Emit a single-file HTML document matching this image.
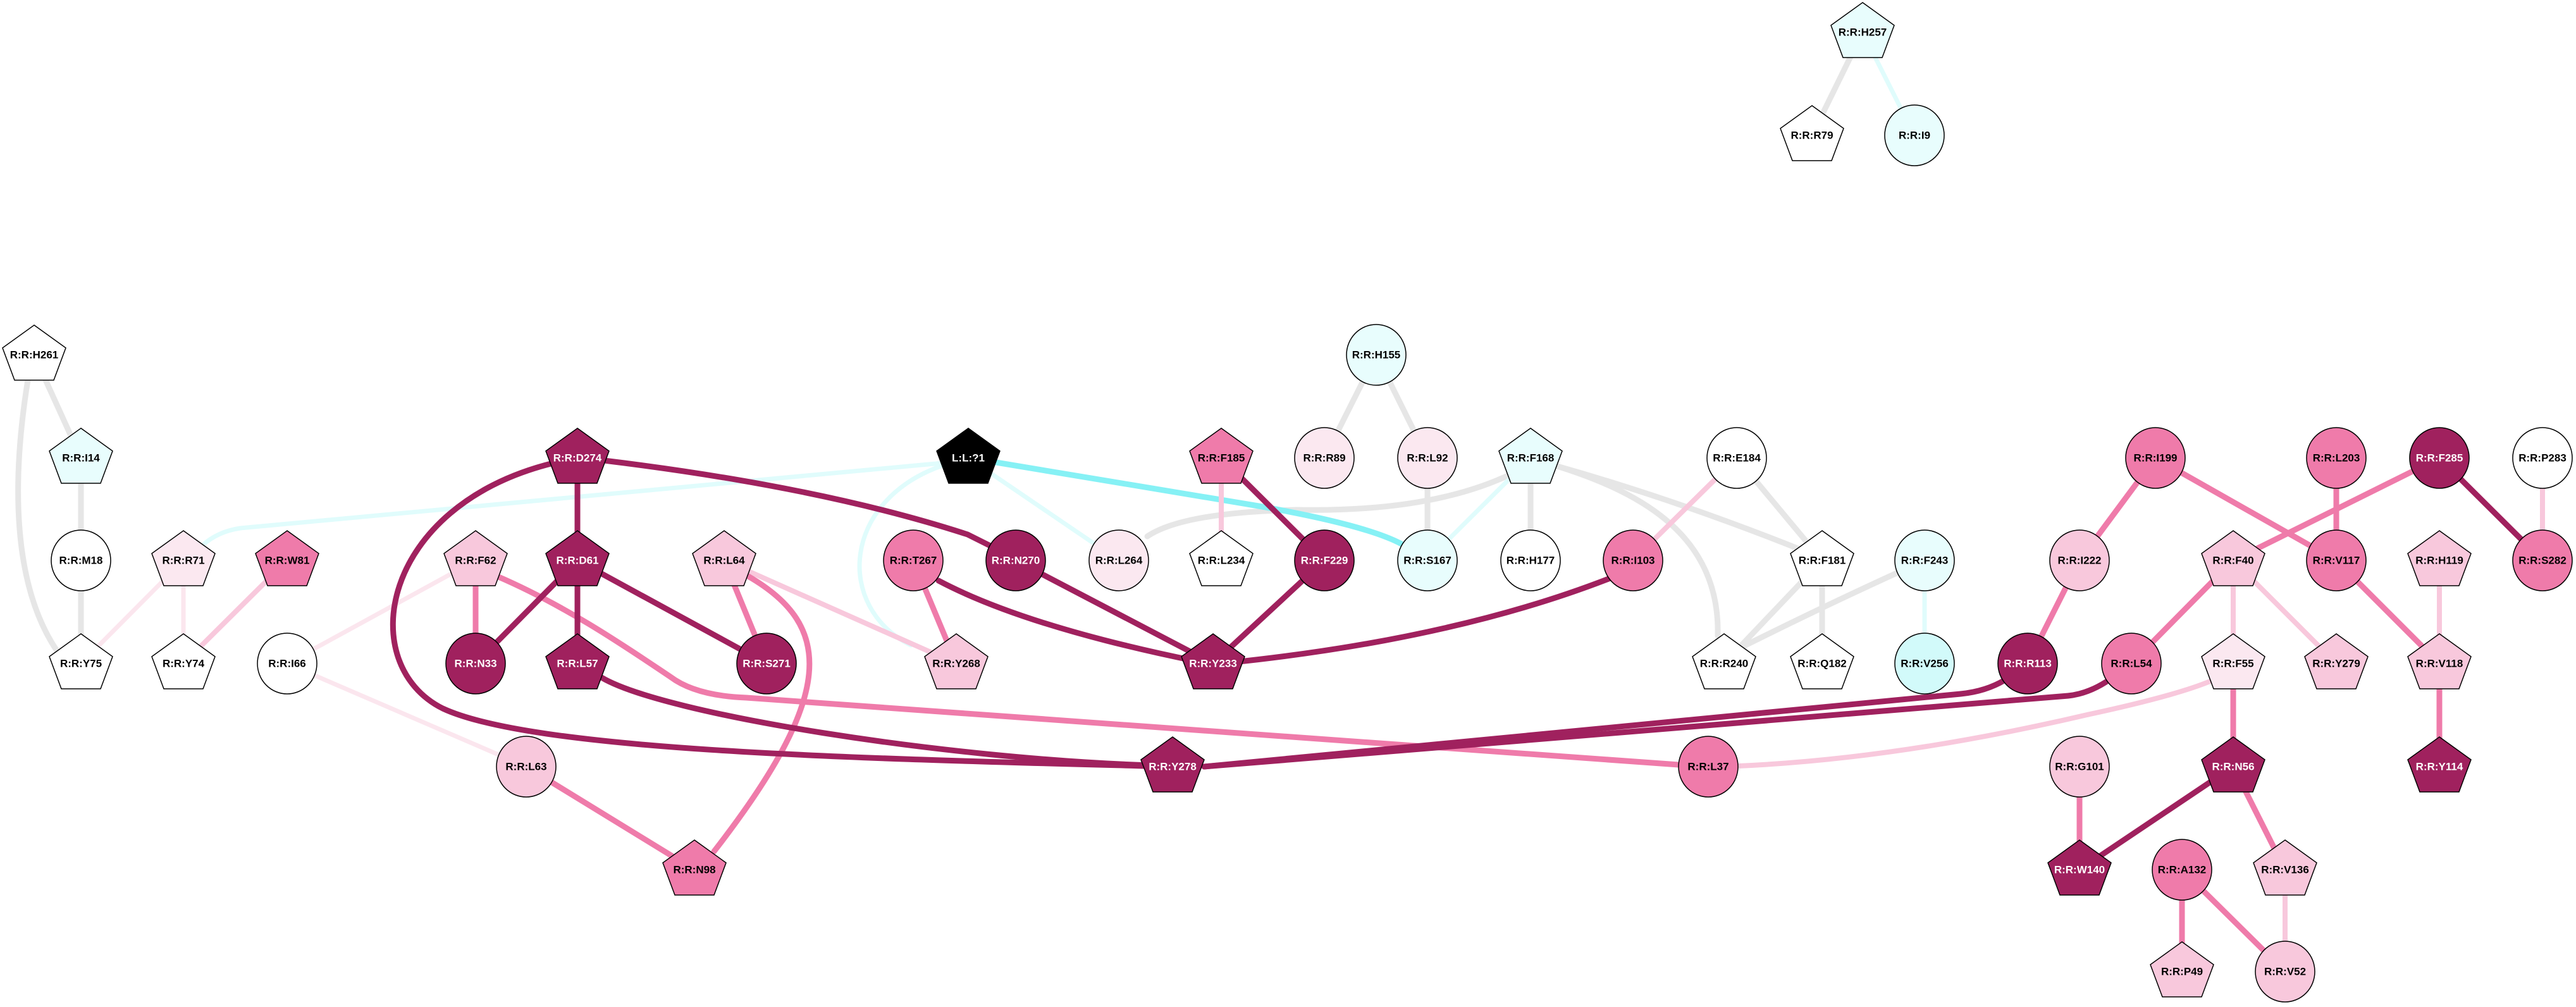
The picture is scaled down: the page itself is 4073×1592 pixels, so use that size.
<!DOCTYPE html>
<html><head><meta charset="utf-8"><style>
html,body{margin:0;padding:0;background:#fff;}
svg{display:block;}
text{font-family:"Liberation Sans",Arial,sans-serif;font-size:17px;font-weight:bold;text-anchor:middle;dominant-baseline:central;}
</style></head><body>
<svg width="4073" height="1592" viewBox="0 0 4073 1592" xmlns="http://www.w3.org/2000/svg">
<defs>
<symbol id="pent" overflow="visible"><polygon points="0,-47 50,-11 31,40 -31,40 -50,-11"/></symbol>
</defs>
<g fill="none" stroke-linecap="round">
<!-- gray -->
<g stroke="#e6e6e6" stroke-width="9">
<line x1="2945" y1="51" x2="2865" y2="214"/>
<line x1="54" y1="561" x2="128" y2="724"/>
<path d="M44 601 C20 750,15 930,98 1040"/>
<line x1="128" y1="724" x2="128" y2="886"/>
<line x1="128" y1="886" x2="128" y2="1049"/>
<line x1="2176" y1="561" x2="2094" y2="724"/>
<line x1="2176" y1="561" x2="2257" y2="724"/>
<line x1="2257" y1="724" x2="2257" y2="886"/>
<path d="M2386 751 Q2260 810 2050 806 Q1870 810 1814 848"/>
<line x1="2420" y1="724" x2="2420" y2="886"/>
<path d="M2462 737 C2600 780,2720 850,2716 1005"/>
<path d="M2462 737 Q2650 790 2850 870"/>
<line x1="2746" y1="724" x2="2881" y2="886"/>
<line x1="2881" y1="886" x2="2726" y2="1049"/>
<line x1="2881" y1="886" x2="2881" y2="1049"/>
<path d="M3043 886 Q2900 950 2740 1030"/>
</g>
<!-- light cyan -->
<g stroke="#e0fcfc" stroke-width="7">
<line x1="2945" y1="51" x2="3027" y2="214"/>
<path d="M1490 732 L380 835 Q345 840 320 862"/>
<line x1="1531" y1="724" x2="1769" y2="886"/>
<path d="M1493 735 C1330 790,1320 960,1440 1020"/>
<line x1="2420" y1="724" x2="2257" y2="886"/>
<line x1="3043" y1="886" x2="3043" y2="1049"/>
</g>
<path d="M1569 730 L1990 800 Q2160 830 2216 860" stroke="#86f1f5" stroke-width="9"/>
<!-- very light pink -->
<g stroke="#fbe6ee" stroke-width="7">
<line x1="290" y1="886" x2="128" y2="1049"/>
<line x1="290" y1="886" x2="290" y2="1049"/>
<line x1="752" y1="886" x2="454" y2="1049"/>
<line x1="454" y1="1049" x2="832" y2="1212"/>
</g>
<!-- light pink -->
<g stroke="#f8c8dc" stroke-width="8">
<line x1="454" y1="886" x2="290" y2="1049"/>
<line x1="1931" y1="724" x2="1931" y2="886"/>
<line x1="1145" y1="886" x2="1512" y2="1049"/>
<line x1="2746" y1="724" x2="2582" y2="886"/>
<path d="M3497 1076 Q3440 1100 3300 1130 Q3000 1200 2748 1211"/>
<line x1="3531" y1="886" x2="3694" y2="1049"/>
<line x1="3531" y1="886" x2="3531" y2="1049"/>
<line x1="3857" y1="886" x2="3857" y2="1049"/>
<line x1="3613" y1="1375" x2="3613" y2="1536"/>
<line x1="4020" y1="724" x2="4020" y2="886"/>
</g>
<!-- medium pink -->
<g stroke="#ef7baa" stroke-width="9">
<line x1="752" y1="886" x2="752" y2="1049"/>
<path d="M786 911 C900 960,1000 1030,1060 1070 Q1100 1100 1180 1103 L2654 1209"/>
<line x1="1145" y1="886" x2="1212" y2="1049"/>
<path d="M1183 911 C1320 990,1320 1100,1129 1346"/>
<line x1="832" y1="1212" x2="1098" y2="1375"/>
<line x1="1444" y1="886" x2="1512" y2="1049"/>
<line x1="3408" y1="724" x2="3288" y2="886"/>
<line x1="3408" y1="724" x2="3694" y2="886"/>
<line x1="3694" y1="724" x2="3694" y2="886"/>
<line x1="3857" y1="724" x2="3531" y2="886"/>
<line x1="3531" y1="886" x2="3370" y2="1049"/>
<line x1="3694" y1="886" x2="3857" y2="1049"/>
<line x1="3857" y1="1049" x2="3857" y2="1212"/>
<line x1="3531" y1="1049" x2="3531" y2="1212"/>
<line x1="3531" y1="1212" x2="3613" y2="1375"/>
<line x1="3288" y1="1212" x2="3288" y2="1375"/>
<line x1="3450" y1="1375" x2="3450" y2="1536"/>
<line x1="3450" y1="1375" x2="3613" y2="1536"/>
<line x1="3288" y1="886" x2="3206" y2="1049"/>
</g>
<!-- dark -->
<g stroke="#a0215e" stroke-width="9">
<line x1="913" y1="724" x2="913" y2="886"/>
<path d="M955 728 Q1300 770 1530 845 L1590 875"/>
<path d="M875 732 C600 800,560 1050,700 1120 C850 1190,1400 1200,1850 1212"/>
<line x1="913" y1="886" x2="752" y2="1049"/>
<line x1="913" y1="886" x2="913" y2="1049"/>
<line x1="913" y1="886" x2="1212" y2="1049"/>
<path d="M951 1071 C1050 1130,1500 1200,1820 1210"/>
<path d="M1484 918 Q1620 990 1890 1045"/>
<line x1="1606" y1="886" x2="1918" y2="1049"/>
<line x1="1931" y1="724" x2="2094" y2="886"/>
<line x1="2094" y1="886" x2="1918" y2="1049"/>
<path d="M2546 914 Q2300 1010 1950 1047"/>
<path d="M3170 1075 Q3140 1093 3100 1097 L1904 1212"/>
<path d="M3330 1078 Q3300 1097 3270 1100 L1904 1212"/>
<line x1="3857" y1="724" x2="4020" y2="886"/>
<line x1="3531" y1="1212" x2="3288" y2="1375"/>
</g>
</g>
<!-- nodes -->
<g stroke="#000" stroke-width="1.5">
<!-- pentagons -->
<use href="#pent" x="2945" y="51" fill="#e8fdfd"/>
<use href="#pent" x="2865" y="214" fill="#fff"/>
<use href="#pent" x="54" y="561" fill="#fff"/>
<use href="#pent" x="128" y="724" fill="#e8fdfd"/>
<use href="#pent" x="290" y="886" fill="#fbe8f0"/>
<use href="#pent" x="454" y="886" fill="#ef7baa"/>
<use href="#pent" x="128" y="1049" fill="#fff"/>
<use href="#pent" x="290" y="1049" fill="#fff"/>
<use href="#pent" x="913" y="724" fill="#a0215e"/>
<use href="#pent" x="752" y="886" fill="#f8c8dc"/>
<use href="#pent" x="913" y="886" fill="#a0215e"/>
<use href="#pent" x="913" y="1049" fill="#a0215e"/>
<use href="#pent" x="1145" y="886" fill="#f8c8dc"/>
<use href="#pent" x="1098" y="1375" fill="#ef7baa"/>
<use href="#pent" x="1531" y="724" fill="#000"/>
<use href="#pent" x="1931" y="724" fill="#ef7baa"/>
<use href="#pent" x="1512" y="1049" fill="#f8c8dc"/>
<use href="#pent" x="1931" y="886" fill="#fff"/>
<use href="#pent" x="1918" y="1049" fill="#a0215e"/>
<use href="#pent" x="1854" y="1212" fill="#a0215e"/>
<use href="#pent" x="2420" y="724" fill="#e8fdfd"/>
<use href="#pent" x="2881" y="886" fill="#fff"/>
<use href="#pent" x="2726" y="1049" fill="#fff"/>
<use href="#pent" x="2881" y="1049" fill="#fff"/>
<use href="#pent" x="3531" y="886" fill="#f8c8dc"/>
<use href="#pent" x="3531" y="1049" fill="#fbe8f0"/>
<use href="#pent" x="3694" y="1049" fill="#f8c8dc"/>
<use href="#pent" x="3857" y="886" fill="#f8c8dc"/>
<use href="#pent" x="3857" y="1049" fill="#f8c8dc"/>
<use href="#pent" x="3531" y="1212" fill="#a0215e"/>
<use href="#pent" x="3857" y="1212" fill="#a0215e"/>
<use href="#pent" x="3288" y="1375" fill="#a0215e"/>
<use href="#pent" x="3613" y="1375" fill="#f8c8dc"/>
<use href="#pent" x="3450" y="1536" fill="#f8c8dc"/>
<!-- ellipses -->
<ellipse cx="3027" cy="214" rx="47" ry="48" fill="#e8fdfd"/>
<ellipse cx="128" cy="886" rx="47" ry="48" fill="#fff"/>
<ellipse cx="454" cy="1049" rx="47" ry="48" fill="#fff"/>
<ellipse cx="752" cy="1049" rx="47" ry="48" fill="#a0215e"/>
<ellipse cx="1212" cy="1049" rx="47" ry="48" fill="#a0215e"/>
<ellipse cx="832" cy="1212" rx="47" ry="48" fill="#f8c8dc"/>
<ellipse cx="2176" cy="561" rx="47" ry="48" fill="#e8fdfd"/>
<ellipse cx="2094" cy="724" rx="47" ry="48" fill="#fbe8f0"/>
<ellipse cx="2257" cy="724" rx="47" ry="48" fill="#fbe8f0"/>
<ellipse cx="1444" cy="886" rx="47" ry="48" fill="#ef7baa"/>
<ellipse cx="1606" cy="886" rx="47" ry="48" fill="#a0215e"/>
<ellipse cx="1769" cy="886" rx="47" ry="48" fill="#fbe8f0"/>
<ellipse cx="2094" cy="886" rx="47" ry="48" fill="#a0215e"/>
<ellipse cx="2257" cy="886" rx="47" ry="48" fill="#e8fdfd"/>
<ellipse cx="2420" cy="886" rx="47" ry="48" fill="#fff"/>
<ellipse cx="2582" cy="886" rx="47" ry="48" fill="#ef7baa"/>
<ellipse cx="2746" cy="724" rx="47" ry="48" fill="#fff"/>
<ellipse cx="2701" cy="1212" rx="47" ry="48" fill="#ef7baa"/>
<ellipse cx="3043" cy="886" rx="47" ry="48" fill="#e8fdfd"/>
<ellipse cx="3043" cy="1049" rx="47" ry="48" fill="#d2fafa"/>
<ellipse cx="3408" cy="724" rx="47" ry="48" fill="#ef7baa"/>
<ellipse cx="3694" cy="724" rx="47" ry="48" fill="#ef7baa"/>
<ellipse cx="3857" cy="724" rx="47" ry="48" fill="#a0215e"/>
<ellipse cx="4020" cy="724" rx="47" ry="48" fill="#fff"/>
<ellipse cx="3288" cy="886" rx="47" ry="48" fill="#f8c8dc"/>
<ellipse cx="3694" cy="886" rx="47" ry="48" fill="#ef7baa"/>
<ellipse cx="4020" cy="886" rx="47" ry="48" fill="#ef7baa"/>
<ellipse cx="3206" cy="1049" rx="47" ry="48" fill="#a0215e"/>
<ellipse cx="3370" cy="1049" rx="47" ry="48" fill="#ef7baa"/>
<ellipse cx="3288" cy="1212" rx="47" ry="48" fill="#f8c8dc"/>
<ellipse cx="3450" cy="1375" rx="47" ry="48" fill="#ef7baa"/>
<ellipse cx="3613" cy="1536" rx="47" ry="48" fill="#f8c8dc"/>
</g>
<!-- labels -->
<g fill="#000">
<text x="2945" y="51">R:R:H257</text>
<text x="2865" y="214">R:R:R79</text>
<text x="3027" y="214">R:R:I9</text>
<text x="54" y="561">R:R:H261</text>
<text x="128" y="724">R:R:I14</text>
<text x="128" y="886">R:R:M18</text>
<text x="290" y="886">R:R:R71</text>
<text x="454" y="886">R:R:W81</text>
<text x="128" y="1049">R:R:Y75</text>
<text x="290" y="1049">R:R:Y74</text>
<text x="454" y="1049">R:R:I66</text>
<text x="752" y="886">R:R:F62</text>
<text x="1145" y="886">R:R:L64</text>
<text x="832" y="1212">R:R:L63</text>
<text x="1098" y="1375">R:R:N98</text>
<text x="1931" y="724">R:R:F185</text>
<text x="2176" y="561">R:R:H155</text>
<text x="2094" y="724">R:R:R89</text>
<text x="2257" y="724">R:R:L92</text>
<text x="2420" y="724">R:R:F168</text>
<text x="2746" y="724">R:R:E184</text>
<text x="1444" y="886">R:R:T267</text>
<text x="1769" y="886">R:R:L264</text>
<text x="1931" y="886">R:R:L234</text>
<text x="2257" y="886">R:R:S167</text>
<text x="2420" y="886">R:R:H177</text>
<text x="2582" y="886">R:R:I103</text>
<text x="1512" y="1049">R:R:Y268</text>
<text x="2701" y="1212">R:R:L37</text>
<text x="2881" y="886">R:R:F181</text>
<text x="3043" y="886">R:R:F243</text>
<text x="2726" y="1049">R:R:R240</text>
<text x="2881" y="1049">R:R:Q182</text>
<text x="3043" y="1049">R:R:V256</text>
<text x="3408" y="724">R:R:I199</text>
<text x="3694" y="724">R:R:L203</text>
<text x="4020" y="724">R:R:P283</text>
<text x="3288" y="886">R:R:I222</text>
<text x="3531" y="886">R:R:F40</text>
<text x="3694" y="886">R:R:V117</text>
<text x="3857" y="886">R:R:H119</text>
<text x="4020" y="886">R:R:S282</text>
<text x="3370" y="1049">R:R:L54</text>
<text x="3531" y="1049">R:R:F55</text>
<text x="3694" y="1049">R:R:Y279</text>
<text x="3857" y="1049">R:R:V118</text>
<text x="3288" y="1212">R:R:G101</text>
<text x="3450" y="1375">R:R:A132</text>
<text x="3613" y="1375">R:R:V136</text>
<text x="3450" y="1536">R:R:P49</text>
<text x="3613" y="1536">R:R:V52</text>
</g>
<g fill="#fff">
<text x="913" y="724">R:R:D274</text>
<text x="913" y="886">R:R:D61</text>
<text x="752" y="1049">R:R:N33</text>
<text x="913" y="1049">R:R:L57</text>
<text x="1212" y="1049">R:R:S271</text>
<text x="1531" y="724">L:L:?1</text>
<text x="1606" y="886">R:R:N270</text>
<text x="2094" y="886">R:R:F229</text>
<text x="1918" y="1049">R:R:Y233</text>
<text x="1854" y="1212">R:R:Y278</text>
<text x="3857" y="724">R:R:F285</text>
<text x="3206" y="1049">R:R:R113</text>
<text x="3531" y="1212">R:R:N56</text>
<text x="3857" y="1212">R:R:Y114</text>
<text x="3288" y="1375">R:R:W140</text>
</g>
</svg>
</body></html>
